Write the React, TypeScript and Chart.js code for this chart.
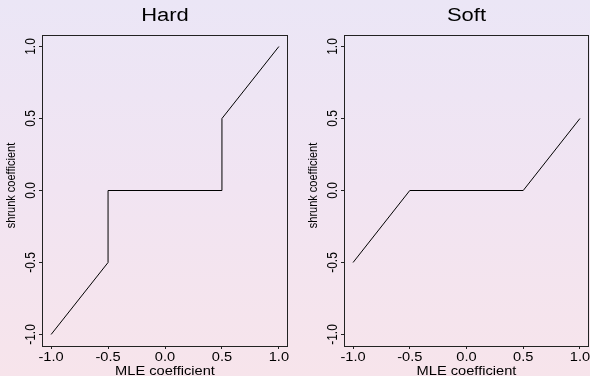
import React, { useEffect, useRef } from "react";
import { Chart, registerables } from "chart.js";

Chart.register(...registerables);

// ---- data ----
const hardX = [-1, -0.5, -0.5, 0.5, 0.5, 1];
const hardY = [-1, -0.5, 0, 0, 0.5, 1];
const softX = [-1, -0.5, 0.5, 1];
const softY = [-0.5, 0, 0, 0.5];
const tickValues = [-1, -0.5, 0, 0.5, 1];
const tickLabels = ["-1.0", "-0.5", "0.0", "0.5", "1.0"];
const panelTitles = ["Hard", "Soft"];
const xTitle = "MLE coefficient";
const yTitle = "shrunk coefficient";

const FONT = '"Liberation Sans", Arial, Helvetica, sans-serif';
const SX = 1.22;

function drawText(
  ctx: CanvasRenderingContext2D,
  text: string,
  x: number,
  y: number,
  size: number,
  rotate: boolean
) {
  ctx.save();
  ctx.translate(x, y);
  ctx.scale(SX, 1);
  if (rotate) ctx.rotate(-Math.PI / 2);
  ctx.font = `${size}px ${FONT}`;
  ctx.fillStyle = "#000";
  ctx.textAlign = "center";
  ctx.textBaseline = "alphabetic";
  ctx.fillText(text, 0, 0);
  ctx.restore();
}

type PanelProps = {
  title: string;
  xs: number[];
  ys: number[];
  left: number;
  width: number;
  padLeft: number;
  padRight: number;
};

function Panel({ title, xs, ys, left, width, padLeft, padRight }: PanelProps) {
  const ref = useRef<HTMLCanvasElement | null>(null);
  useEffect(() => {
    if (!ref.current) return;
    const pts = xs.map((x, i) => ({ x, y: ys[i] }));
    const textPlugin = {
      id: "rtext",
      afterDraw(chart: any) {
        const ctx = chart.ctx as CanvasRenderingContext2D;
        const a = chart.chartArea;
        const xs_ = chart.scales.x;
        const ys_ = chart.scales.y;
        ctx.save();
        ctx.strokeStyle = "#222";
        ctx.lineWidth = 1;
        ctx.strokeRect(
          Math.round(a.left) + 0.5,
          Math.round(a.top) + 0.5,
          Math.round(a.right - a.left) - 1,
          Math.round(a.bottom - a.top)
        );
        ctx.restore();
        const cx = (a.left + a.right) / 2;
        drawText(ctx, title, cx, 20.7, 18, false);
        tickValues.forEach((v, i) => {
          drawText(ctx, tickLabels[i], xs_.getPixelForValue(v), a.bottom + 15, 12, false);
          drawText(ctx, tickLabels[i], a.left - 7.5, ys_.getPixelForValue(v), 12, true);
        });
        drawText(ctx, xTitle, cx, a.bottom + 29, 12, false);
        drawText(ctx, yTitle, a.left - 27, (a.top + a.bottom) / 2 - 5, 11, true);
      },
    };
    const axisCommon = {
      type: "linear" as const,
      min: -1.08,
      max: 1.08,
      border: { display: false },
      grid: {
        drawOnChartArea: false,
        drawTicks: true,
        tickLength: 3,
        color: "#222",
        lineWidth: 1,
      },
      ticks: { display: false },
      afterBuildTicks: (scale: any) => {
        scale.ticks = tickValues.map((v) => ({ value: v }));
      },
    };
    const chart = new Chart(ref.current, {
      type: "scatter",
      data: {
        datasets: [
          {
            data: pts,
            showLine: true,
            borderColor: "#000",
            borderWidth: 1,
            pointRadius: 0,
            fill: false,
            tension: 0,
          },
        ],
      },
      options: {
        animation: false,
        responsive: false,
        maintainAspectRatio: false,
        devicePixelRatio: 1,
        layout: { padding: { left: padLeft, right: padRight, top: 35, bottom: 0 } },
        plugins: { legend: { display: false }, tooltip: { enabled: false }, title: { display: false } },
        scales: {
          x: {
            ...axisCommon,
            position: "bottom",
            afterFit: (s: any) => {
              s.height = 30;
            },
          },
          y: {
            ...axisCommon,
            position: "left",
            afterFit: (s: any) => {
              s.width = 42;
            },
          },
        },
      },
      plugins: [textPlugin],
    } as any);
    return () => chart.destroy();
  }, [title, xs, ys, padLeft, padRight]);
  return (
    <canvas
      ref={ref}
      width={width}
      height={376}
      style={{ position: "absolute", left, top: 0, width, height: 376 }}
    />
  );
}

export default function App() {
  return (
    <div
      style={{
        position: "absolute",
        left: 0,
        top: 0,
        width: 590,
        height: 376,
        overflow: "hidden",
        background: "linear-gradient(to bottom, #ebe6f6 0%, #f1e4f2 50%, #f7e4eb 100%)",
      }}
    >
      <Panel title={panelTitles[0]} xs={hardX} ys={hardY} left={0} width={300} padLeft={0} padRight={12} />
      <Panel title={panelTitles[1]} xs={softX} ys={softY} left={295} width={295} padLeft={7} padRight={1} />
    </div>
  );
}
